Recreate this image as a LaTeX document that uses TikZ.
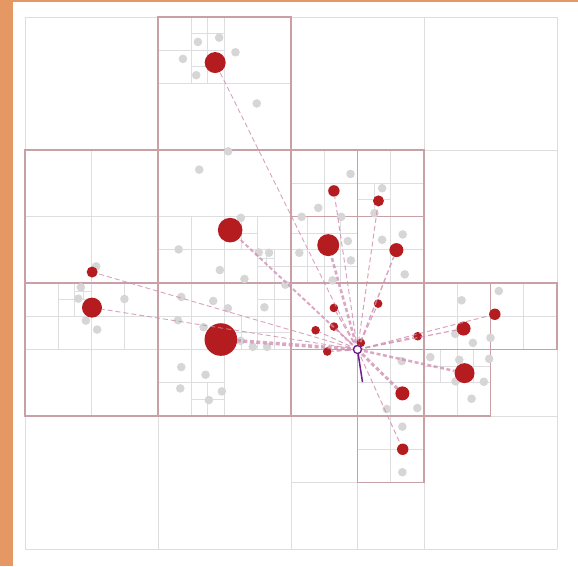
\documentclass[tikz,border=0pt]{standalone}
\definecolor{orangec}{RGB}{230,152,100}
\definecolor{gridc}{RGB}{222,222,225}
\definecolor{cellc}{RGB}{201,160,166}
\definecolor{dotc}{RGB}{214,214,214}
\definecolor{redc}{RGB}{180,28,32}
\definecolor{linkc}{RGB}{208,140,176}
\definecolor{purc}{RGB}{110,30,140}
\begin{document}
\begin{tikzpicture}[x=1pt,y=-1pt,
  gridl/.style={draw=gridc, line width=0.8pt},
  cellb/.style={draw=cellc, line width=1.8pt},
  gdot/.style={fill=dotc},
  rc/.style={circle, fill=redc, inner sep=0pt, minimum size=#1},
  lk/.style={draw=linkc, line width=#1, dash pattern=on 5pt off 3pt, draw opacity=0.8},
  lkt/.style={draw=linkc, line width=#1, dash pattern=on 4pt off 2.5pt, draw opacity=0.75},
  purl/.style={draw=purc, line width=1.5pt},
  qnode/.style={circle, draw=purc, fill=white, line width=1.3pt, inner sep=0pt, minimum size=8pt}]
\useasboundingbox (0,0) rectangle (578,566);
\fill[white] (0,0) rectangle (578,566);
\fill[orangec] (0,0) rectangle (12.5,566);
\fill[orangec] (0,0) rectangle (578,2);
\begin{scope}[shift={(25,17)}, x=33.25pt, y=-33.25pt]
% base grid
\foreach \k in {0,4,8,12,16} {
  \draw[gridl] (\k,0) -- (\k,16);
  \draw[gridl] (0,\k) -- (16,\k);
}
% quadtree subdivisions
\foreach \a/\b/\c/\d in {
  6/0/6/4, 4/2/8/2, 5/0/5/2, 4/1/6/1, 5.5/0/5.5/2, 5/0.5/6/0.5, 5/1.5/6/1.5,
  2/4/2/8, 0/6/4/6,
  6/4/6/8, 4/6/8/6, 5/6/5/8, 4/7/8/7, 7/6/7/8, 6.5/6/6.5/7, 6/6.5/7/6.5,
  7.5/7/7.5/8, 7/7.5/8/7.5, 7.25/7/7.25/7.5, 7/7.25/7.5/7.25,
  9/4/9/8, 8/5/10/5, 11/4/11/8, 10/5/12/5, 10.5/5/10.5/6, 10/5.5/11/5.5,
  8/7/12/7, 8.5/6/8.5/8, 9.5/6/9.5/8, 8/6.5/10/6.5, 8/7.5/10/7.5,
  2/8/2/12, 0/10/4/10, 0/9/4/9, 1/8/1/10, 3/8/3/10, 1.5/8/1.5/9, 1/8.5/2/8.5,
  1.75/8/1.75/8.5, 1.5/8.25/2/8.25,
  6/8/6/12, 4/10/8/10, 4/9/8/9, 5/8/5/10, 7/8/7/10, 7.5/8/7.5/10, 7/8.5/8/8.5,
  6.5/9/6.5/10, 6/9.5/8/9.5, 5/10/5/12, 4/11/6/11, 5.5/11/5.5/12, 5/11.5/6/11.5,
  9/8/9/10, 8/9/12/9, 11/8/11/12, 10/11/12/11,
  13/8/13/12, 12/9/16/9, 15/8/15/10, 12/11/14/11, 12/10.5/14/10.5,
  12.5/10/12.5/11, 13.5/10/13.5/11,
  10/12/10/16, 8/14/12/14, 11/12/11/14, 10/13/12/13}
  \draw[gridl] (\a,\b) -- (\c,\d);
% accepted cells
\foreach \a/\b/\c/\d in {
  4/0/8/4, 0/4/4/8, 4/4/8/8, 8/4/10/6, 10/4/12/6, 8/6/10/8, 10/6/12/8,
  0/8/4/12, 4/8/8/12, 8/8/10/10, 10/8/12/10, 8/10/10/12, 10/10/12/12,
  12/8/14/10, 14/8/16/10, 12/10/14/12, 10/12/12/14}
  \draw[cellb] (\a,\b) rectangle (\c,\d);
% bodies
\foreach \u/\v in {
  5.2/0.75, 5.84/0.62, 6.33/1.06, 4.75/1.26, 5.15/1.75, 6.97/2.6,
  6.11/4.04, 5.24/4.59, 6.49/6.04, 4.62/6.99, 5.86/7.61, 6.6/7.88, 7.03/7.08, 7.34/7.09,
  2.14/7.5,
  1.68/8.13, 1.6/8.47, 1.83/9.13, 2.17/9.4, 2.99/8.48,
  7.83/8.05, 4.7/8.42, 5.66/8.54, 6.1/8.76, 7.2/8.73, 4.6/9.12, 5.37/9.33,
  6.85/9.92, 7.28/9.92, 6.48/9.74, 4.7/10.53, 5.43/10.76, 4.67/11.17, 5.53/11.52, 5.92/11.26,
  9.79/4.72, 8.82/5.74, 8.32/6.01, 9.51/6.01, 10.74/5.15, 10.51/5.9, 8.25/7.09,
  9.71/6.74, 9.8/7.32, 9.25/7.92, 10.74/6.7, 11.36/6.54, 11.42/7.74,
  11.33/10.35, 10.88/11.79, 11.8/11.76,
  11.35/12.32, 11.35/13.69,
  14.25/8.24, 13.13/8.52, 12.94/9.53, 13.47/9.8, 14.0/9.65, 12.19/10.23, 13.06/10.31,
  13.96/10.28, 12.95/10.96, 13.8/10.97, 13.43/11.48}
  \fill[gdot] (\u,\v) circle (4.3pt);
% centres of mass / used bodies
\coordinate (q) at (10,10);
\coordinate (f) at (10.15,10.98);
\node[rc=21pt] (rA) at (5.72,1.37) {};
\node[rc=11pt] (rB) at (2.02,7.67) {};
\node[rc=24.6pt] (rC) at (6.17,6.41) {};
\node[rc=11.4pt] (rD) at (9.29,5.23) {};
\node[rc=11pt] (rE) at (10.63,5.53) {};
\node[rc=22pt] (rF) at (9.12,6.86) {};
\node[rc=14pt] (rG) at (11.17,7.01) {};
\node[rc=20pt] (rH) at (2.015,8.74) {};
\node[rc=32.6pt] (rI) at (5.89,9.7) {};
\node[rc=8.6pt] (rJ) at (9.29,8.75) {};
\node[rc=8.6pt] (rK) at (9.29,9.31) {};
\node[rc=8.6pt] (rL) at (8.74,9.42) {};
\node[rc=8.6pt] (rM) at (9.09,10.06) {};
\node[rc=8.6pt] (rN) at (10.1,9.8) {};
\node[rc=8.6pt] (rO) at (10.62,8.62) {};
\node[rc=8.6pt] (rP) at (11.81,9.6) {};
\node[rc=14pt] (rQ) at (11.35,11.32) {};
\node[rc=11.4pt] (rR) at (11.36,13.0) {};
\node[rc=14pt] (rS) at (13.19,9.37) {};
\node[rc=11.4pt] (rT) at (14.13,8.94) {};
\node[rc=20pt] (rU) at (13.22,10.71) {};
% interactions
\foreach \n/\w in {A/0.9pt, B/0.9pt, D/1pt, E/1pt, G/1.4pt, H/0.9pt, J/1.2pt, K/1.2pt,
  L/1pt, M/1.6pt, N/1.2pt, O/1pt, P/1pt, R/1pt, S/1.2pt, T/1pt}
  \draw[lk=\w] (q) -- (r\n);
\foreach \n/\w in {C/2pt, F/2.6pt, I/3.5pt, Q/3pt, U/2.5pt}
  \draw[lkt=\w] (q) -- (r\n);
% query point and its force
\draw[purl] (q) -- (f);
\node[qnode] (qn) at (q) {};
\end{scope}
\end{tikzpicture}
\end{document}
